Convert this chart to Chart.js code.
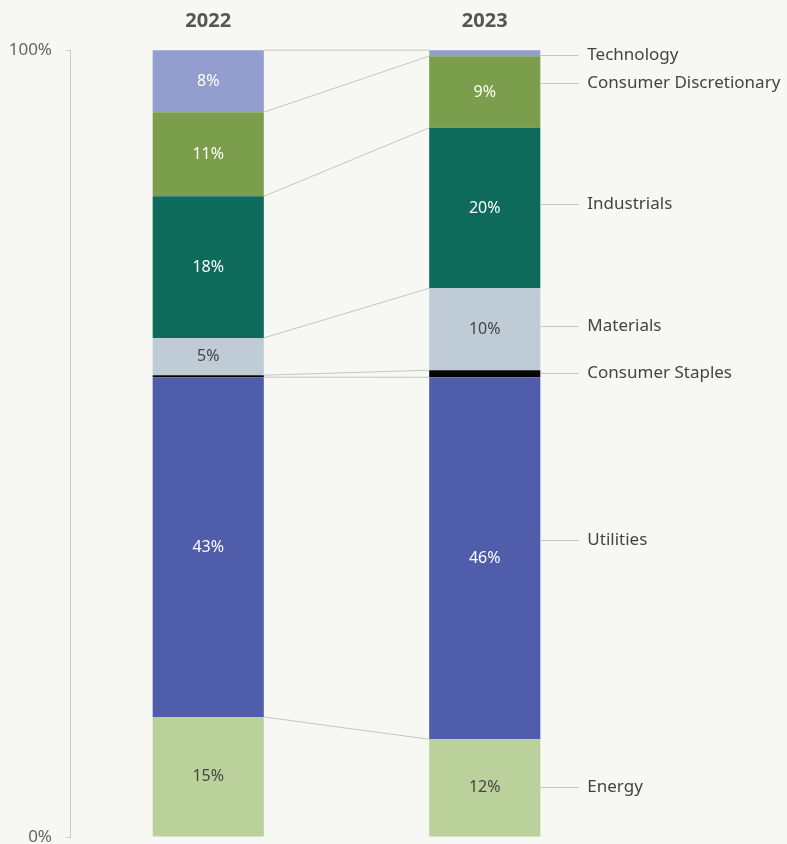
<!DOCTYPE html>
<html>
<head>
<meta charset="utf-8">
<script src="https://cdn.jsdelivr.net/npm/chart.js@4"></script>
<style>
  html, body { margin: 0; padding: 0; background: #f7f8f4; }
  #wrap { width: 787px; height: 844px; }
</style>
</head>
<body>
<div id="wrap"><canvas id="chart" width="787" height="844"></canvas></div>
<script>
const years = ["2022", "2023"]
const sectors = ["Energy", "Utilities", "Consumer Staples", "Materials", "Industrials", "Consumer Discretionary", "Technology"]
const energy = [15.25, 12.42]
const utilities = [43.18, 46.0]
const consumerStaples = [0.25, 0.89]
const materials = [4.74, 10.42]
const industrials = [18.0, 20.38]
const consumerDiscretionary = [10.68, 9.11]
const technology = [7.88, 0.76]
const yTicks = [0, 100]

const seriesValues = [energy, utilities, consumerStaples, materials, industrials, consumerDiscretionary, technology]
const colors = ["#bbd19c", "#4f5dab", "#050505", "#bfccd5", "#0e6b5b", "#7a9e4b", "#939dce"]
const labelColors = ["#444", "#fff", "#fff", "#444", "#fff", "#fff", "#fff"]
// small vertical nudges (px) for the right-hand labels so they sit like the original
const labelNudge = [-1, -18, -1, -3, -4, -9, 2]

const FONT = "'Noto Sans', 'Open Sans', sans-serif"

// connector lines between bars + right side labels + in-bar values
const stackPlugin = {
  id: "stackExtras",
  afterDatasetsDraw(chart) {
    const ctx = chart.ctx
    const n = chart.data.datasets.length
    ctx.save()
    // connectors
    ctx.strokeStyle = "#c4c6c2"
    ctx.lineWidth = 1
    for (let i = 0; i < n; i++) {
      const els = chart.getDatasetMeta(i).data
      const a = els[0], b = els[1]
      ctx.beginPath()
      ctx.moveTo(a.x + a.width / 2, a.y)
      ctx.lineTo(b.x - b.width / 2, b.y)
      ctx.stroke()
    }
    // in-bar values
    ctx.font = "16px " + FONT
    ctx.textAlign = "center"
    ctx.textBaseline = "middle"
    for (let i = 0; i < n; i++) {
      const els = chart.getDatasetMeta(i).data
      els.forEach((el, j) => {
        const v = chart.data.datasets[i].data[j]
        if (v < 2) return
        ctx.fillStyle = labelColors[i]
        ctx.fillText(Math.round(v) + "%", el.x, (el.y + el.base) / 2)
      })
    }
    // right labels
    ctx.font = "17px " + FONT
    ctx.textAlign = "left"
    ctx.fillStyle = "#444"
    for (let i = 0; i < n; i++) {
      const el = chart.getDatasetMeta(i).data[1]
      const y = Math.round((el.y + el.base) / 2 + labelNudge[i]) + 0.5
      const x0 = el.x + el.width / 2
      ctx.strokeStyle = "#c4c6c2"
      ctx.beginPath()
      ctx.moveTo(x0, y)
      ctx.lineTo(x0 + 38, y)
      ctx.stroke()
      ctx.fillText(chart.data.datasets[i].label, x0 + 47, y)
    }
    ctx.restore()
  }
}

new Chart(document.getElementById("chart"), {
  type: "bar",
  data: {
    labels: years,
    datasets: sectors.map((s, i) => ({
      label: s,
      data: seriesValues[i],
      backgroundColor: colors[i],
      borderWidth: 0,
      barPercentage: 0.402,
      categoryPercentage: 1
    }))
  },
  options: {
    responsive: false,
    animation: false,
    layout: { padding: { left: 0, right: 164, top: 7, bottom: 7 } },
    plugins: { legend: { display: false }, tooltip: { enabled: false } },
    scales: {
      x: {
        stacked: true,
        position: "top",
        grid: { display: false, drawTicks: false },
        border: { display: false },
        afterFit(axis) { axis.height = 43 },
        ticks: { color: "#555", font: { family: FONT, size: 20, weight: "bold" }, padding: 17 }
      },
      y: {
        stacked: true,
        min: 0,
        max: 100,
        afterBuildTicks(axis) { axis.ticks = yTicks.map(v => ({ value: v })) },
        grid: { drawOnChartArea: false, color: "#c9cbc7", tickLength: 4 },
        border: { color: "#c9cbc7" },
        afterFit(axis) {
          axis.width = 70
          axis.paddingTop = 0
          axis.paddingBottom = 0
        },
        ticks: {
          color: "#666",
          padding: 14,
          font: { family: FONT, size: 17 },
          callback: v => v + "%"
        }
      }
    }
  },
  plugins: [stackPlugin]
})
</script>
</body>
</html>
